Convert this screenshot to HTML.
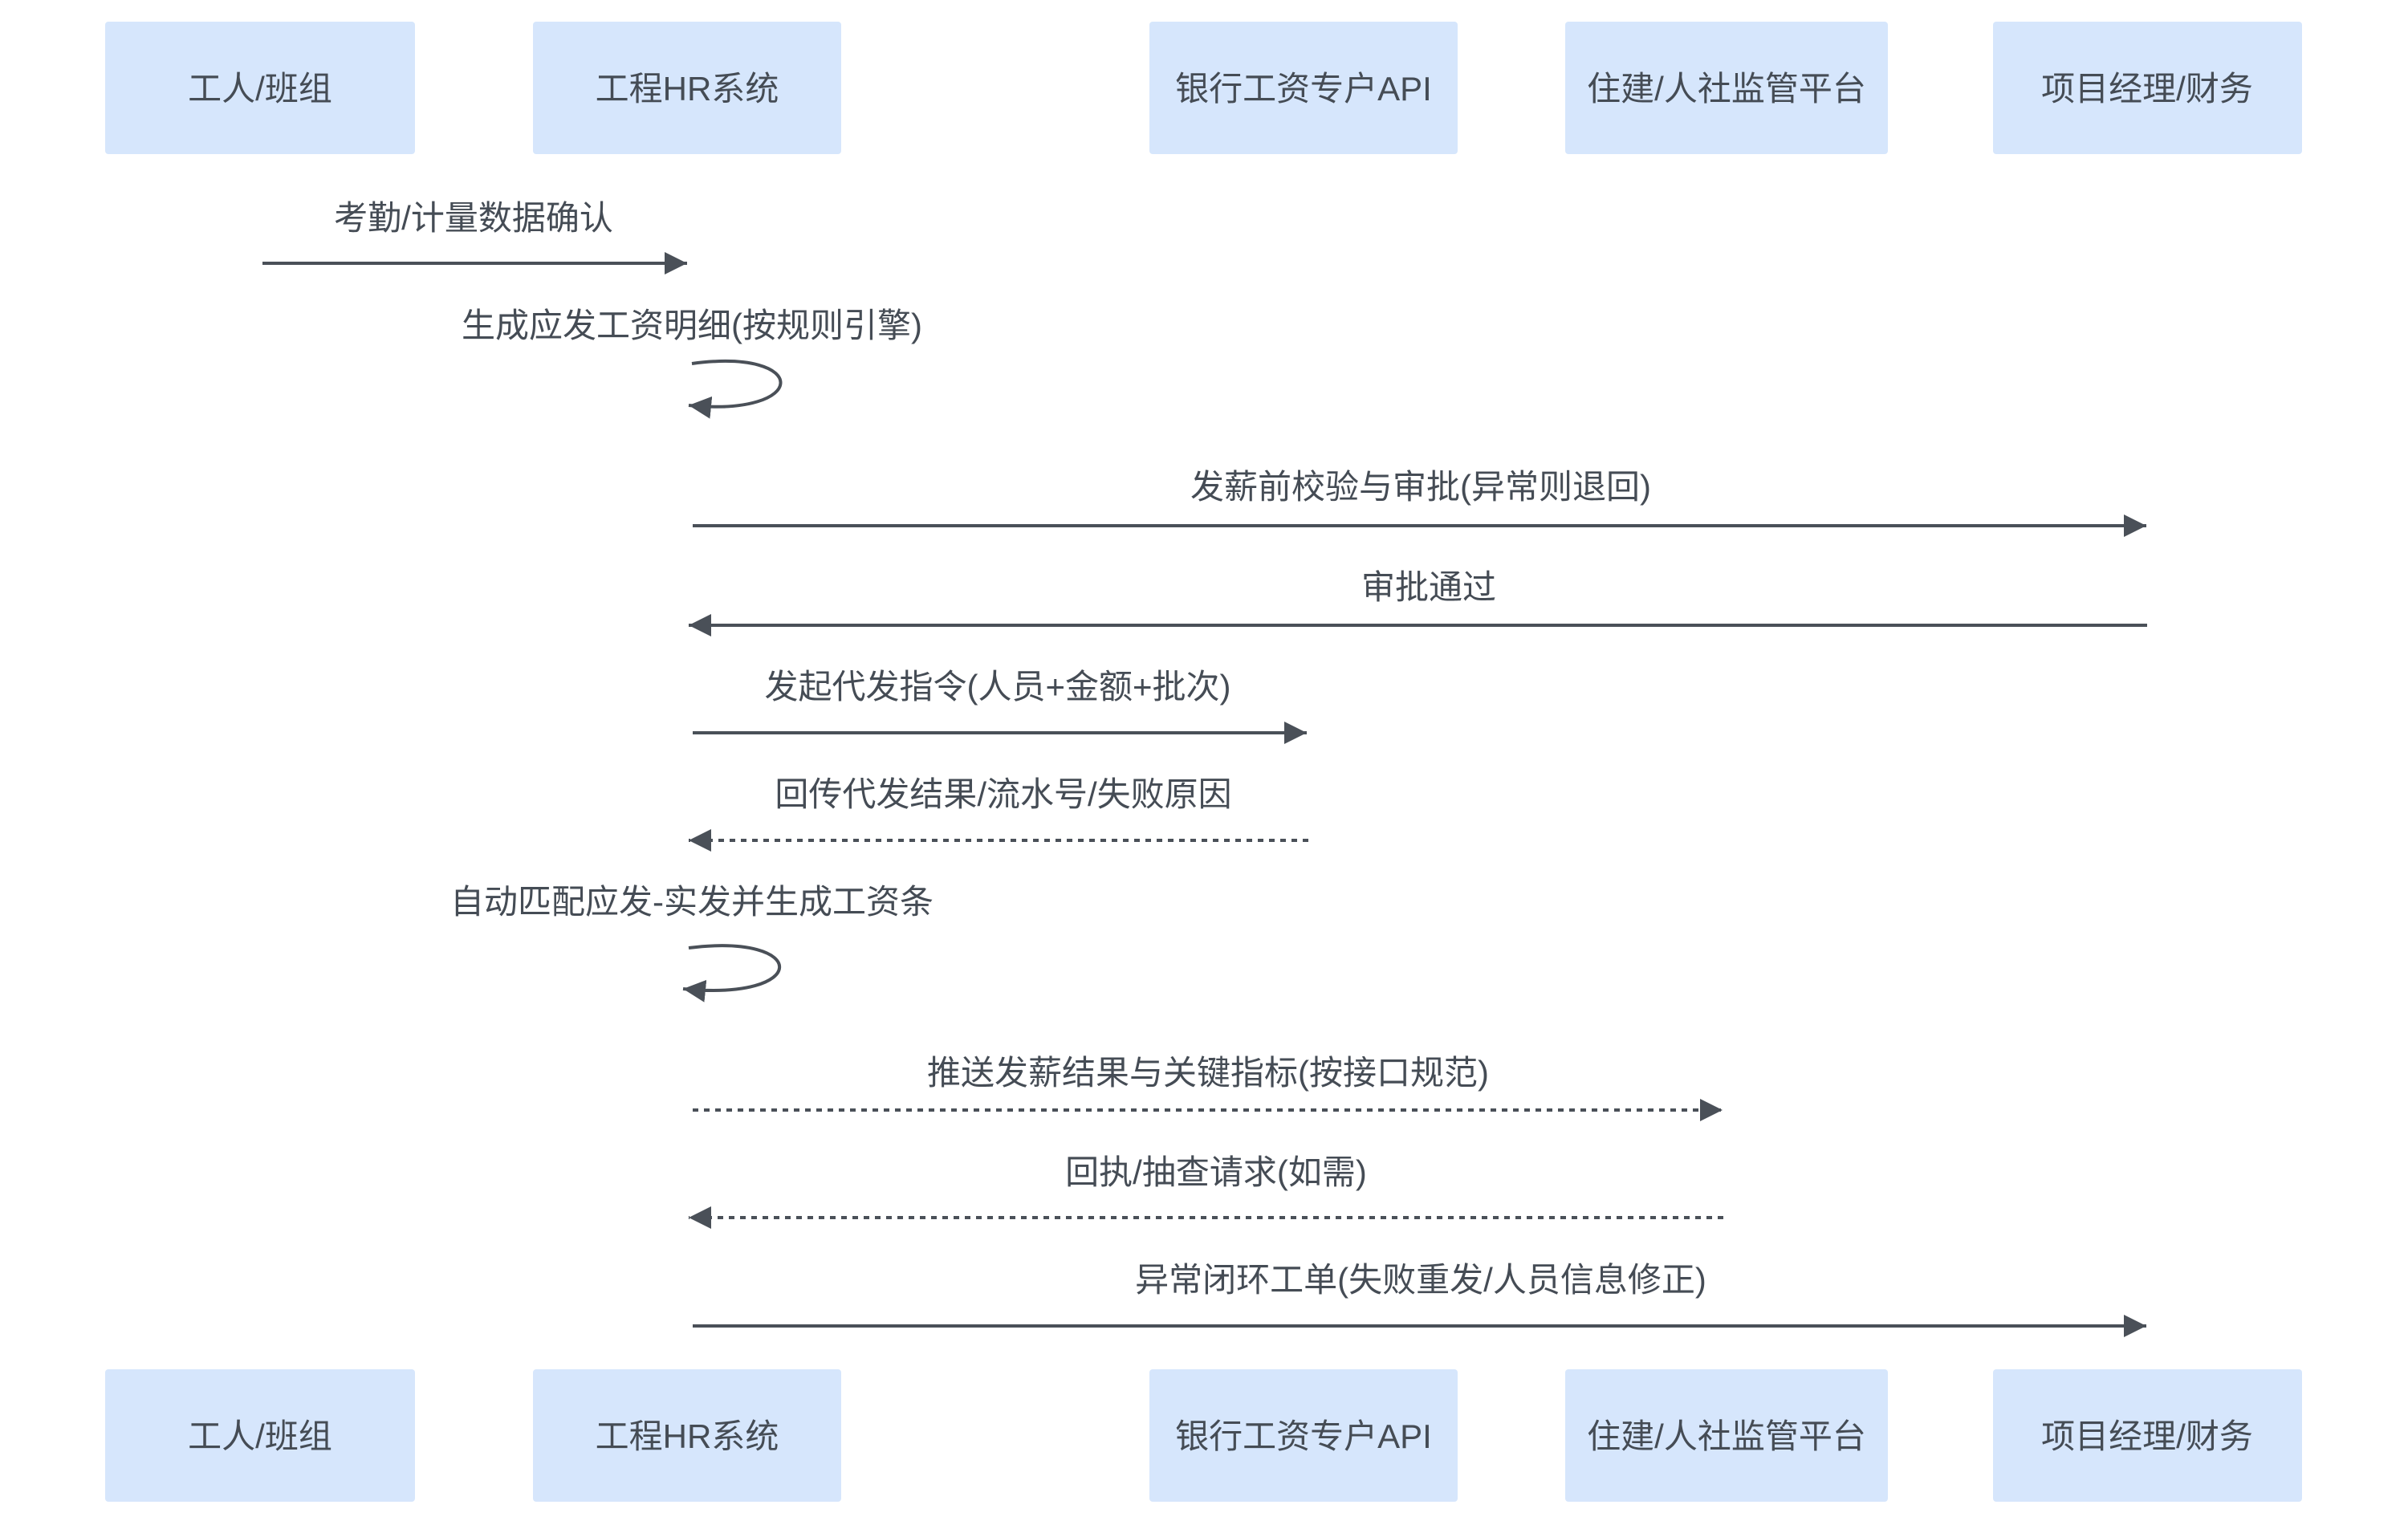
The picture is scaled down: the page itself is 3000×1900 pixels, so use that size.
<!DOCTYPE html>
<html><head><meta charset="utf-8"><style>
html,body{margin:0;padding:0;background:#fff;}
svg{display:block;}
text{font-family:"Liberation Sans","Noto Sans CJK SC",sans-serif;fill:#454c55;}
</style></head><body>
<svg width="3000" height="1900" viewBox="0 0 3000 1900" xmlns="http://www.w3.org/2000/svg">
<defs>
<marker id="a" markerWidth="30" markerHeight="30" refX="28" refY="14" orient="auto" markerUnits="userSpaceOnUse">
<path d="M0,0 L28,14 L0,28 Z" fill="#4a5058"/>
</marker>
</defs>
<g fill="#d6e6fc">
<rect x="131" y="27" width="386" height="165" rx="4"/>
<rect x="664" y="27" width="384" height="165" rx="4"/>
<rect x="1432" y="27" width="384" height="165" rx="4"/>
<rect x="1950" y="27" width="402" height="165" rx="4"/>
<rect x="2483" y="27" width="385" height="165" rx="4"/>
<rect x="131" y="1706" width="386" height="165" rx="4"/>
<rect x="664" y="1706" width="384" height="165" rx="4"/>
<rect x="1432" y="1706" width="384" height="165" rx="4"/>
<rect x="1950" y="1706" width="402" height="165" rx="4"/>
<rect x="2483" y="1706" width="385" height="165" rx="4"/>
</g>
<g font-size="42" text-anchor="middle">
<text x="324" y="125">工人/班组</text>
<text x="856" y="125">工程HR系统</text>
<text x="1624" y="125">银行工资专户API</text>
<text x="2151" y="125">住建/人社监管平台</text>
<text x="2675" y="125">项目经理/财务</text>
<text x="324" y="1804">工人/班组</text>
<text x="856" y="1804">工程HR系统</text>
<text x="1624" y="1804">银行工资专户API</text>
<text x="2151" y="1804">住建/人社监管平台</text>
<text x="2675" y="1804">项目经理/财务</text>

<text x="590" y="286">考勤/计量数据确认</text>
<text x="862" y="420">生成应发工资明细(按规则引擎)</text>
<text x="1770" y="621">发薪前校验与审批(异常则退回)</text>
<text x="1780" y="746">审批通过</text>
<text x="1243" y="870">发起代发指令(人员+金额+批次)</text>
<text x="1250" y="1004">回传代发结果/流水号/失败原因</text>
<text x="862" y="1138">自动匹配应发-实发并生成工资条</text>
<text x="1505" y="1351">推送发薪结果与关键指标(按接口规范)</text>
<text x="1515" y="1475">回执/抽查请求(如需)</text>
<text x="1770" y="1609">异常闭环工单(失败重发/人员信息修正)</text>
</g>
<g stroke="#4a5058" stroke-width="4" fill="none" marker-end="url(#a)">
<line x1="327" y1="328" x2="856" y2="328"/>
<path d="M862 453 C1010 433, 1010 520, 858 505"/>
<line x1="863" y1="655" x2="2674" y2="655"/>
<line x1="2675" y1="779" x2="858" y2="779"/>
<line x1="863" y1="913" x2="1628" y2="913"/>
<line x1="1630" y1="1047" x2="858" y2="1047" stroke-dasharray="7,7"/>
<path d="M858 1181 C1010 1162, 1010 1248, 851 1232"/>
<line x1="863" y1="1383" x2="2146" y2="1383" stroke-dasharray="7,7"/>
<line x1="2147" y1="1517" x2="858" y2="1517" stroke-dasharray="7,7"/>
<line x1="863" y1="1652" x2="2674" y2="1652"/>
</g>
</svg>
</body></html>
